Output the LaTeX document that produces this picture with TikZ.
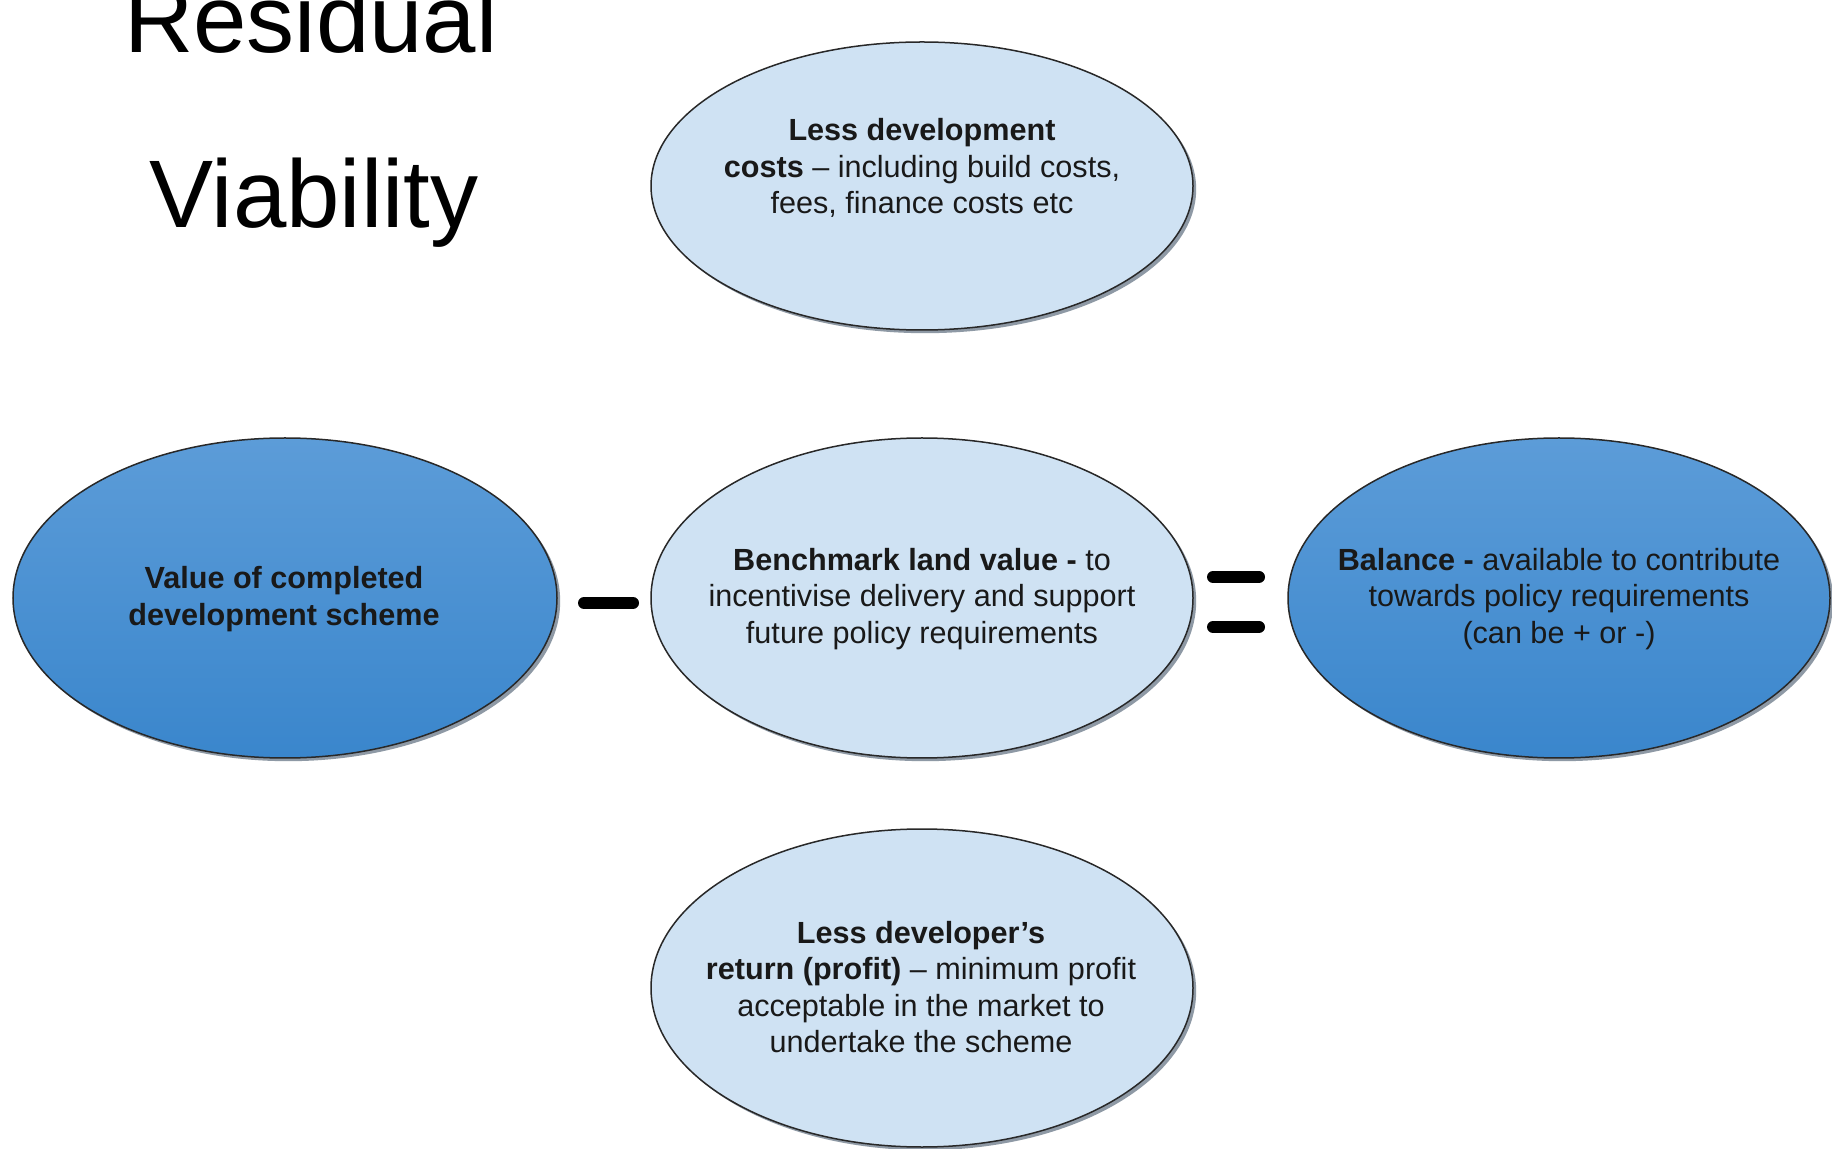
\documentclass[tikz,border=0pt]{standalone}
\usepackage{fontspec}
\setmainfont{Liberation Sans}
\usetikzlibrary{shapes.geometric,shadows}
\definecolor{lightfill}{RGB}{207,226,243}
\definecolor{darktop}{RGB}{92,156,216}
\definecolor{darkbot}{RGB}{58,134,204}
\definecolor{outline}{RGB}{40,40,40}
\definecolor{shadowc}{RGB}{105,120,135}
\definecolor{txt}{RGB}{25,25,25}
\begin{document}
\begin{tikzpicture}[x=0.5pt,y=-0.5pt,
  oval/.style={ellipse, draw=outline, line width=0.75pt, minimum width=271pt, minimum height=160pt,
    inner sep=0pt,
    drop shadow={shadow xshift=1.6pt, shadow yshift=-1.6pt, fill=shadowc, opacity=0.75}},
  light/.style={oval, fill=lightfill},
  dark/.style={oval, top color=darktop, bottom color=darkbot},
  ovaltext/.style={align=center, text=txt, inner sep=0pt, font=\fontsize{15.3}{18.3}\selectfont},
  titletext/.style={anchor=base, inner sep=0pt, text=black, font=\fontsize{48}{48}\selectfont},
  opbar/.style={line width=6pt, line cap=round, black}]
\fill[white] (0,0) rectangle (1832,1149);
\useasboundingbox (0,0) rectangle (1832,1149);

\node[titletext] (title1) at (311,53) {Residual};
\node[titletext] (title2) at (314,228) {Viability};

\node[light, minimum height=144pt] (cost) at (922,186) {};
\node[ovaltext] (costtext) at (922,168) {\textbf{Less development}\\\textbf{costs} – including build costs,\\fees, finance costs etc};

\node[dark, minimum width=272pt] (value) at (285,598) {};
\node[ovaltext] (valuetext) at (284,599) {\textbf{Value of completed}\\\textbf{development scheme}};

\node[light] (bench) at (922,598) {};
\node[ovaltext] (benchtext) at (922,599) {\textbf{Benchmark land value -} to\\incentivise delivery and support\\future policy requirements};

\node[dark] (balance) at (1559,598) {};
\node[ovaltext] (balancetext) at (1559,599) {\textbf{Balance -} available to contribute\\towards policy requirements\\(can be + or -)};

\node[light, minimum height=159pt] (profit) at (922,988) {};
\node[ovaltext] (profittext) at (921,987) {\textbf{Less developer’s}\\\textbf{return (profit)} – minimum profit\\acceptable in the market to\\undertake the scheme};

\coordinate (minusL) at (584,603);
\coordinate (minusR) at (633,603);
\coordinate (eqAL) at (1213,577);
\coordinate (eqAR) at (1259,577);
\coordinate (eqBL) at (1213,627);
\coordinate (eqBR) at (1259,627);
\draw[opbar] (minusL) -- (minusR);
\draw[opbar] (eqAL) -- (eqAR);
\draw[opbar] (eqBL) -- (eqBR);
\end{tikzpicture}
\end{document}
